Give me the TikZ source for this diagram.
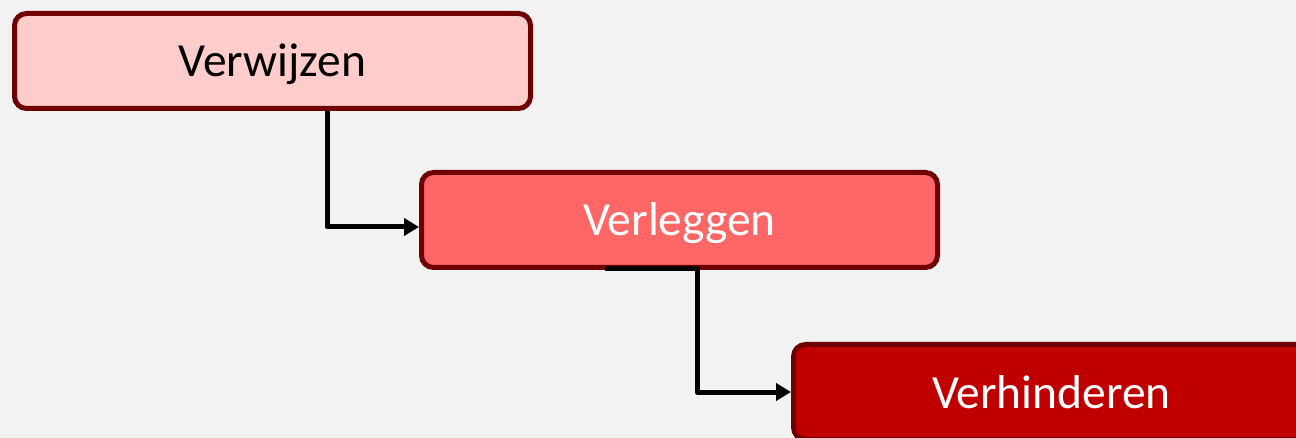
\documentclass[tikz,border=0pt]{standalone}
\usepackage{fontspec}
\setmainfont{Carlito}
\usetikzlibrary{arrows.meta}
\definecolor{bg}{HTML}{F2F2F2}
\definecolor{bord}{HTML}{700000}
\definecolor{fillA}{HTML}{FFCCCC}
\definecolor{fillB}{HTML}{FF6666}
\definecolor{fillC}{HTML}{C00000}
\tikzset{
  box/.style={draw=bord, line width=5pt, rounded corners=12pt,
    minimum width=516pt, minimum height=95pt, inner sep=0pt,
    text height=32pt, text depth=0pt,
    font=\fontsize{47.5}{57}\selectfont},
  conn/.style={draw=black, line width=5pt, line join=round,
    -{Triangle[length=15pt,width=17pt]}}
}
\begin{document}
\begin{tikzpicture}[x=1pt,y=-1pt]
\useasboundingbox[fill=bg] (0,0) rectangle (1296,438);
\node[box, fill=fillA, text=black] (b1) at (272.5,61) {Verwijzen};
\node[box, fill=fillB, text=white] (b2) at (679.5,220) {Verleggen};
\node[box, fill=fillC, text=white] (b3) at (1051.5,392) {Verhinderen};
\draw[conn] ([xshift=54.5pt]b1.south) |- ([yshift=-7pt]b2.west);
\draw[conn] ([xshift=-74.5pt,yshift=1pt]b2.south) -- ([xshift=17.5pt,yshift=1pt]b2.south) |- (b3.west);
\end{tikzpicture}
\end{document}
